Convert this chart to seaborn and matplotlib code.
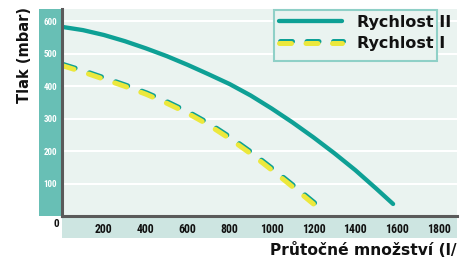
import matplotlib
matplotlib.use("Agg")
import matplotlib.pyplot as plt
import numpy as np
import pandas as pd
import seaborn as sns
from matplotlib import patheffects as pe
from matplotlib.patches import Rectangle
from matplotlib.transforms import Bbox, TransformedBbox
from matplotlib import font_manager as fm

# ---- data ----
flow_ii = [0, 100, 200, 300, 400, 500, 600, 700, 800, 900, 1000, 1100, 1200, 1300, 1400, 1500, 1580]
pressure_ii = [582, 572, 557, 538, 516, 492, 465, 436, 406, 371, 331, 288, 242, 193, 141, 84, 37]
flow_i = [0, 100, 200, 300, 400, 500, 600, 700, 800, 900, 1000, 1100, 1200]
pressure_i = [463, 443, 421, 399, 375, 347, 316, 280, 238, 192, 142, 90, 37]
series_names = ["Rychlost II", "Rychlost I"]
x_ticks = [200, 400, 600, 800, 1000, 1200, 1400, 1600, 1800]
y_ticks = [100, 200, 300, 400, 500, 600]
y_label = "Tlak (mbar)"
x_label = "Průtočné množství (l/min)"

sns.set_style("white")

available = {f.name for f in fm.fontManager.ttflist}
def pick(*names):
    for n in names:
        if n in available:
            return n
    return "DejaVu Sans"

narrow = pick("Liberation Sans Narrow", "DejaVu Sans Condensed", "Roboto Condensed", "DejaVu Sans")
main_font = "DejaVu Sans"
plt.rcParams["font.family"] = [main_font]

TEAL = "#0ea095"
YELLOW = "#ece83c"
BG = "#eaf3f0"
W, H = 474, 263
DASH_LW = 3.6

fig = plt.figure(figsize=(W / 100, H / 100), dpi=100)
ax = fig.add_axes([62 / W, 1 - 216 / H, (457 - 62) / W, (216 - 9) / H])

# side bands (behind the axes so tick labels stay visible)
fig.patches.append(Rectangle((39 / W, 1 - 216 / H), 23 / W, 207 / H, transform=fig.transFigure,
                             facecolor="#68bfb5", edgecolor="none", zorder=-1))
fig.patches.append(Rectangle((62 / W, 1 - 238 / H), 395 / W, 22 / H, transform=fig.transFigure,
                             facecolor="#cde5e1", edgecolor="none", zorder=-1))

ax.set_facecolor(BG)

df_ii = pd.DataFrame({"flow": flow_ii, "pressure": pressure_ii})
df_i = pd.DataFrame({"flow": flow_i, "pressure": pressure_i})

sns.lineplot(data=df_ii, x="flow", y="pressure", ax=ax, color=TEAL, linewidth=3.1,
             label=series_names[0], sort=False)
ax.lines[-1].set_solid_capstyle("round")
sns.lineplot(data=df_i, x="flow", y="pressure", ax=ax, color=YELLOW, linewidth=DASH_LW,
             label=series_names[1], sort=False)
ax.set_xlim(0, 1885)
ax.set_ylim(0, 637)

# fit the dash rhythm so that the pattern both starts and ends on a dash
pts = ax.transData.transform(np.column_stack([flow_i, pressure_i]))
length_px = np.hypot(*np.diff(pts, axis=0).T).sum()
lw_px = DASH_LW * 100 / 72
on, off = 2.4, 2.9
period = (on + off) * lw_px
n = round((length_px - on * lw_px) / period)
s = length_px / (n * period + on * lw_px)

ln = ax.lines[-1]
ln.set_linestyle((0, (on * s, off * s)))
ln.set_dash_capstyle("round")
ln.set_path_effects([pe.SimpleLineShadow(offset=(0.8, 0.8), shadow_color=TEAL, alpha=1.0),
                     pe.Normal()])

ax.set_xticks(x_ticks)
ax.set_yticks(y_ticks)
ax.set_xlabel("")
ax.set_ylabel("")
ax.grid(axis="y", color="white", linewidth=1.5)
ax.grid(axis="x", visible=False)
ax.set_axisbelow(True)

for sp in ["top", "right"]:
    ax.spines[sp].set_visible(False)
for sp in ["left", "bottom"]:
    ax.spines[sp].set_color("#5a5a5a")
    ax.spines[sp].set_linewidth(2.2)

ax.tick_params(axis="y", length=0, pad=3.6, labelcolor="white", labelsize=6.5)
ax.tick_params(axis="x", direction="in", length=3, width=2, color="#5a5a5a", pad=5,
               labelsize=8.5, labelcolor="#111111")
for lbl in ax.get_xticklabels() + ax.get_yticklabels():
    lbl.set_fontfamily(narrow)
    lbl.set_fontweight("bold")

fig.text(56 / W, 1 - 224 / H, "0", ha="center", va="center", fontsize=8,
         fontweight="bold", family=narrow, color="#111111")
fig.text(25 / W, 1 - 55 / H, y_label, rotation=90, ha="center", va="center",
         fontsize=10.5, fontweight="bold", color="#111111")
t = fig.text(270 / W, 1 - 250 / H, x_label, ha="left", va="center", fontsize=11.2,
             fontweight="bold", color="#111111")
t.set_clip_box(TransformedBbox(Bbox([[0, 0], [457 / W, 1]]), fig.transFigure))
t.set_clip_on(True)

# legend box (drawn separately so the labels may overhang it like in the reference)
ax.add_patch(Rectangle((274 / W, 1 - 61 / H), (437 - 274) / W, 51 / H, transform=fig.transFigure,
                       facecolor=BG, edgecolor="#8fd0c7", linewidth=1.5, zorder=4.5,
                       clip_on=False))
leg = ax.legend(loc="upper left", bbox_to_anchor=(274 / W, 1 - 10 / H),
                bbox_transform=fig.transFigure, frameon=False,
                handlelength=3.95, handletextpad=0.94, borderpad=0.3, labelspacing=0.4,
                borderaxespad=0, prop={"weight": "bold", "size": 11.5, "family": main_font})
for txt in leg.get_texts():
    txt.set_color("#111111")
for h in leg.get_lines():
    if h.get_linestyle() != "-":
        h.set_linestyle((0, (on, off)))

fig.savefig("out.png", dpi=100)
